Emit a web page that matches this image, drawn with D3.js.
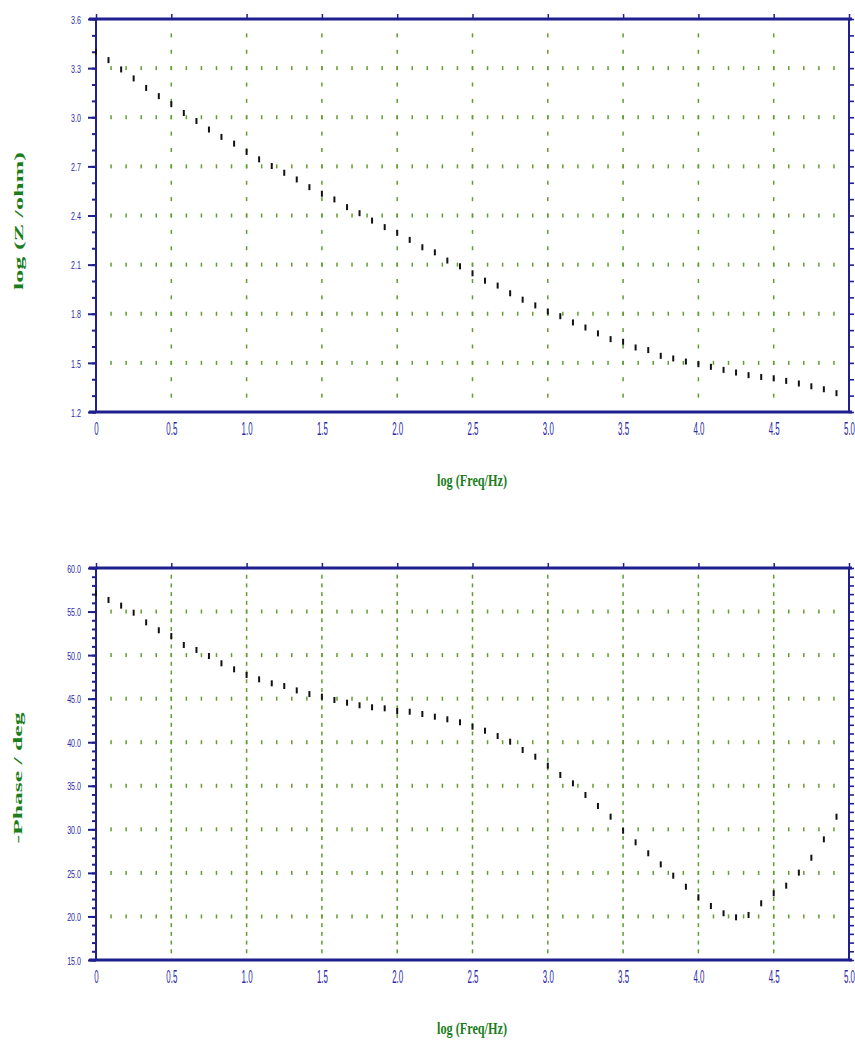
<!DOCTYPE html>
<html><head><meta charset="utf-8">
<script src="https://cdn.jsdelivr.net/npm/d3@7"></script>
<style>body{margin:0;background:#fff}svg{display:block}</style>
</head><body><svg id="c" width="855" height="1045"></svg>
<script>
const logFreq = [0,0.083,0.167,0.25,0.333,0.417,0.5,0.583,0.667,0.75,0.833,0.917,
  1,1.083,1.167,1.25,1.333,1.417,1.5,1.583,1.667,1.75,1.833,1.917,
  2,2.083,2.167,2.25,2.333,2.417,2.5,2.583,2.667,2.75,2.833,2.917,
  3,3.083,3.167,3.25,3.333,3.417,3.5,3.583,3.667,3.75,3.833,3.917,
  4,4.083,4.167,4.25,4.333,4.417,4.5,4.583,4.667,4.75,4.833,4.917];
const logZ = [3.40,3.349,3.292,3.237,3.179,3.129,3.080,3.026,2.977,2.925,
  2.880,2.839,2.788,2.743,2.702,2.661,2.620,2.573,2.533,2.498,
  2.451,2.414,2.369,2.329,2.294,2.251,2.206,2.175,2.125,2.090,
  2.047,2.002,1.972,1.925,1.886,1.851,1.814,1.785,1.747,1.716,
  1.680,1.645,1.629,1.594,1.578,1.543,1.527,1.508,1.492,1.476,
  1.457,1.441,1.425,1.414,1.406,1.390,1.374,1.357,1.339,1.315];
const phase = [57.09,56.33,55.68,54.87,53.76,52.85,52.19,51.16,50.59,49.90,
  49.06,48.37,47.72,47.22,46.76,46.45,45.95,45.53,45.23,44.85,
  44.54,44.24,44.01,43.89,43.58,43.50,43.24,42.93,42.63,42.29,
  41.78,41.32,40.71,40.06,39.11,38.34,37.31,36.24,35.28,33.94,
  32.68,31.45,29.84,28.51,27.25,25.98,24.68,23.41,22.20,21.20,
  20.36,19.90,20.17,21.51,22.66,23.53,25.03,26.74,28.85,31.45];

const xTickValues = [0,0.5,1,1.5,2,2.5,3,3.5,4,4.5,5];
const xTickLabels = ["0","0.5","1.0","1.5","2.0","2.5","3.0","3.5","4.0","4.5","5.0"];
const zTickValues = [1.2,1.5,1.8,2.1,2.4,2.7,3.0,3.3,3.6];
const zTickLabels = ["1.2","1.5","1.8","2.1","2.4","2.7","3.0","3.3","3.6"];
const phaseTickValues = [15,20,25,30,35,40,45,50,55,60];
const phaseTickLabels = ["15.0","20.0","25.0","30.0","35.0","40.0","45.0","50.0","55.0","60.0"];

const xTitle = "log (Freq/Hz)";
const zTitle = "log (Z /ohm)";
const phaseTitle = "-Phase / deg";

const svg = d3.select("#c");
const navy = "#1f1f8f";
const labelBlue = "#2b2ba6";
const gridGreen = "#5f9e2f";
const titleGreen = "#1b7d1b";
const x = d3.scaleLinear().domain([0,5]).range([96,849]);

function steps(a, b, step){
  const n = Math.round((b - a) / step);
  const out = [];
  for (let k = 0; k <= n; k++) out.push(+(a + k*step).toFixed(6));
  return out;
}

function panel(opt){
  const y = d3.scaleLinear().domain(opt.domain).range([opt.bottom, opt.top]);
  const g = svg.append("g");
  const [x0, x1] = x.range();
  const yMinor = steps(opt.domain[0], opt.domain[1], opt.minor);
  const xMinor = steps(0, 5, 0.1);

  // dotted grid: vertical lines at major x ticks
  const gridG = g.append("g").attr("fill", gridGreen);
  xTickValues.slice(1, -1).forEach(xv => {
    gridG.selectAll(null).data(yMinor.slice(1, -1)).join("rect")
      .attr("x", x(xv) - 0.75).attr("y", d => y(d) - 2)
      .attr("width", 1.5).attr("height", 4);
  });
  opt.ticks.slice(1, -1).forEach(yv => {
    gridG.selectAll(null).data(xMinor.slice(1, -1)).join("rect")
      .attr("x", d => x(d) - 0.75).attr("y", y(yv) - 2)
      .attr("width", 1.5).attr("height", 4);
  });

  // left major axis with labels
  const left = g.append("g").attr("transform", `translate(${x0},0)`)
    .call(d3.axisLeft(y).tickValues(opt.ticks).tickSize(8)
      .tickFormat(d => opt.labels[opt.ticks.indexOf(d)]));
  left.select(".domain").remove();
  left.selectAll("line").attr("stroke", navy).attr("stroke-width", 2);
  left.selectAll("text")
    .attr("x", null).attr("dy", null)
    .attr("dominant-baseline", "central")
    .attr("text-anchor", "end")
    .attr("transform", "translate(-15,0) scale(0.62,1)")
    .attr("fill", labelBlue)
    .style("font-family", "'Liberation Sans', Arial, sans-serif")
    .style("font-size", "11.5px");

  // left minor ticks
  const leftMinor = g.append("g").attr("transform", `translate(${x0},0)`)
    .call(d3.axisLeft(y).tickValues(yMinor).tickSize(4).tickFormat(""));
  leftMinor.select(".domain").remove();
  leftMinor.selectAll("line").attr("stroke", navy).attr("stroke-width", 2);

  // right minor ticks (outward)
  const right = g.append("g").attr("transform", `translate(${x1},0)`)
    .call(d3.axisRight(y).tickValues(yMinor).tickSize(5).tickFormat(""));
  right.select(".domain").remove();
  right.selectAll("line").attr("stroke", navy).attr("stroke-width", 1.6);

  // top ticks
  const top = g.append("g").attr("transform", `translate(0,${opt.top})`)
    .call(d3.axisTop(x).tickValues(xTickValues).tickSize(5).tickFormat(""));
  top.select(".domain").remove();
  top.selectAll("line").attr("stroke", navy).attr("stroke-width", 1.5);

  // bottom axis labels
  const bottom = g.append("g").attr("transform", `translate(0,${opt.bottom})`)
    .call(d3.axisBottom(x).tickValues(xTickValues).tickSize(0)
      .tickFormat(d => xTickLabels[xTickValues.indexOf(d)]));
  bottom.select(".domain").remove();
  bottom.selectAll("text")
    .attr("y", null).attr("dy", null)
    .attr("dominant-baseline", "central")
    .attr("transform", "translate(0,17) scale(0.72,1.6)")
    .attr("fill", labelBlue)
    .style("font-family", "'Liberation Sans', Arial, sans-serif")
    .style("font-size", "11px");

  // frame
  const frame = g.append("g").attr("stroke", navy).attr("fill", "none");
  frame.append("line").attr("x1", x0 - 7).attr("x2", x1 + 3)
    .attr("y1", y.range()[1]).attr("y2", y.range()[1]).attr("stroke-width", 3);
  frame.append("line").attr("x1", x0 - 7).attr("x2", x1 + 3)
    .attr("y1", y.range()[0]).attr("y2", y.range()[0]).attr("stroke-width", 3);
  frame.append("line").attr("x1", x0).attr("x2", x0)
    .attr("y1", opt.top).attr("y2", opt.bottom).attr("stroke-width", 2);
  frame.append("line").attr("x1", x1).attr("x2", x1)
    .attr("y1", opt.top).attr("y2", opt.bottom).attr("stroke-width", 2);

  // data markers
  g.append("g").attr("fill", "#111").selectAll("rect")
    .data(opt.values).join("rect")
    .attr("x", (d, i) => x(logFreq[i]) - 1)
    .attr("y", d => y(d) - 3)
    .attr("width", 2).attr("height", 6);

  // x title
  g.append("text")
    .attr("x", 472).attr("y", opt.bottom + 74)
    .attr("text-anchor", "middle")
    .attr("textLength", 70).attr("lengthAdjust", "spacingAndGlyphs")
    .attr("fill", titleGreen)
    .style("font-family", "'Liberation Serif', 'DejaVu Serif', serif")
    .style("font-weight", "bold").style("font-size", "16px")
    .text(xTitle);

  // y title
  g.append("text")
    .attr("transform", `translate(${opt.yTitleX},${opt.yTitleY}) rotate(-90)`)
    .attr("text-anchor", "middle")
    .attr("textLength", opt.yTitleLen).attr("lengthAdjust", "spacingAndGlyphs")
    .attr("fill", titleGreen)
    .style("font-family", "'Liberation Serif', 'DejaVu Serif', serif")
    .style("font-weight", "bold").style("font-size", "13px")
    .text(opt.yTitle);
}

panel({top: 19, bottom: 412, domain: [1.2, 3.6], minor: 0.1,
  ticks: zTickValues, labels: zTickLabels, values: logZ,
  yTitle: zTitle, yTitleX: 23, yTitleY: 221, yTitleLen: 138});
panel({top: 568, bottom: 960, domain: [15, 60], minor: 1,
  ticks: phaseTickValues, labels: phaseTickLabels, values: phase,
  yTitle: phaseTitle, yTitleX: 22, yTitleY: 778, yTitleLen: 131});
</script>
</body></html>
